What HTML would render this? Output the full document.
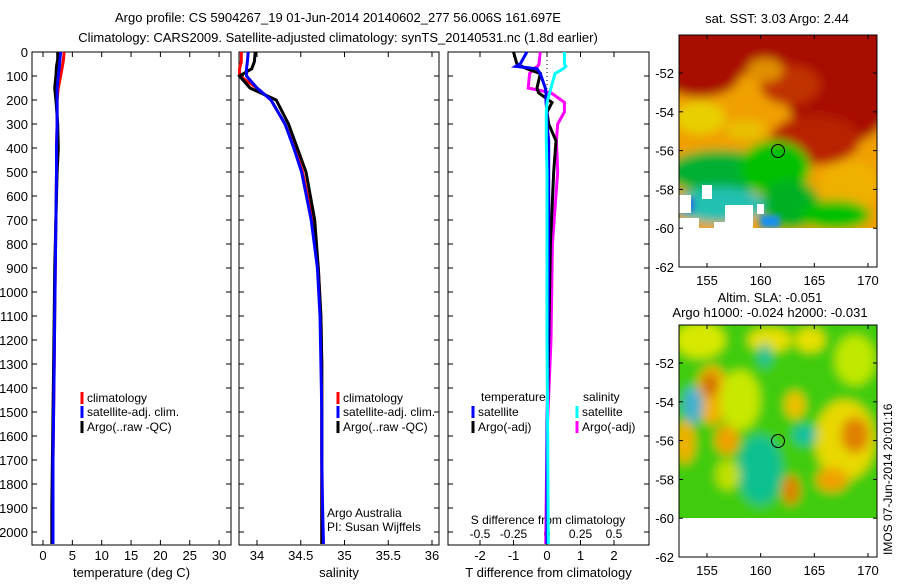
<!DOCTYPE html>
<html><head><meta charset="utf-8"><style>
body{margin:0;background:#fff;width:900px;height:580px;overflow:hidden}
svg{font-family:"Liberation Sans",sans-serif;font-size:13px}
</style></head><body>
<svg id="c" width="900" height="580">
<defs>
<clipPath id="m1"><rect x="679" y="35" width="198" height="193"/></clipPath>
<clipPath id="m2"><rect x="679" y="325" width="198" height="193"/></clipPath>
<filter id="bl" x="-10%" y="-10%" width="120%" height="120%"><feGaussianBlur stdDeviation="5"/></filter>
<filter id="bl2" x="-10%" y="-10%" width="120%" height="120%"><feGaussianBlur stdDeviation="3"/></filter>
</defs>
<text x="338" y="22" text-anchor="middle">Argo profile: CS 5904267_19 01-Jun-2014 20140602_277 56.006S 161.697E</text>
<text x="338" y="42" text-anchor="middle">Climatology: CARS2009. Satellite-adjusted climatology: synTS_20140531.nc (1.8d earlier)</text>

<!-- map 1 SST -->
<g>
<text x="777" y="23" text-anchor="middle">sat. SST: 3.03 Argo: 2.44</text>
<g clip-path="url(#m1)">
<g filter="url(#bl)">
<rect x="660" y="20" width="240" height="220" fill="#f0a000"/>
<rect x="660" y="20" width="240" height="55" fill="#a81000"/>
<ellipse cx="700" cy="75" rx="40" ry="22" fill="#a81000"/>
<ellipse cx="840" cy="90" rx="55" ry="55" fill="#a81000"/>
<ellipse cx="815" cy="140" rx="45" ry="25" fill="#b82000"/>
<ellipse cx="790" cy="85" rx="30" ry="20" fill="#c03000"/>
<ellipse cx="765" cy="70" rx="18" ry="12" fill="#e09000"/>
<ellipse cx="700" cy="118" rx="25" ry="16" fill="#e8d000"/>
<ellipse cx="745" cy="130" rx="20" ry="10" fill="#e8c000"/>
<ellipse cx="850" cy="185" rx="30" ry="25" fill="#f0b000"/>
<ellipse cx="720" cy="172" rx="55" ry="22" fill="#00b030"/>
<ellipse cx="775" cy="168" rx="35" ry="28" fill="#00c000"/>
<ellipse cx="790" cy="205" rx="30" ry="25" fill="#00b020"/>
<ellipse cx="835" cy="215" rx="35" ry="15" fill="#00c000"/>
<ellipse cx="720" cy="205" rx="45" ry="18" fill="#20c0b0"/>
</g>
<g filter="url(#bl2)">
<rect x="680" y="198" width="14" height="14" fill="#2070e0"/>
<rect x="760" y="215" width="20" height="13" fill="#1890f0"/>
</g>
<rect x="679" y="195" width="12" height="18" fill="#fff"/>
<rect x="679" y="218" width="20" height="10" fill="#fff"/>
<rect x="702" y="185" width="10" height="14" fill="#fff"/>
<rect x="725" y="205" width="28" height="23" fill="#fff"/>
<rect x="714" y="222" width="14" height="6" fill="#fff"/>
<rect x="757" y="204" width="7" height="10" fill="#fff"/>
</g>
<rect x="679" y="35" width="198" height="232" fill="none" stroke="#000"/>
<circle cx="778" cy="151" r="6.5" fill="none" stroke="#000"/>
<g id="ax1"></g>
</g>

<!-- map 2 SLA -->
<g>
<text x="770" y="302" text-anchor="middle">Altim. SLA: -0.051</text>
<text x="770" y="317" text-anchor="middle">Argo h1000: -0.024 h2000: -0.031</text>
<g clip-path="url(#m2)">
<g filter="url(#bl)">
<rect x="660" y="310" width="240" height="220" fill="#40cc10"/>
<ellipse cx="700" cy="340" rx="25" ry="18" fill="#d8e800"/>
<ellipse cx="712" cy="395" rx="16" ry="30" fill="#f0b000"/>
<ellipse cx="710" cy="385" rx="8" ry="12" fill="#d07000"/>
<ellipse cx="693" cy="405" rx="10" ry="18" fill="#40b0d0"/>
<ellipse cx="685" cy="442" rx="10" ry="22" fill="#f0b000"/>
<ellipse cx="727" cy="440" rx="12" ry="15" fill="#f0a000"/>
<ellipse cx="740" cy="400" rx="20" ry="30" fill="#c8e800"/>
<ellipse cx="845" cy="440" rx="30" ry="40" fill="#e8d800"/>
<ellipse cx="855" cy="435" rx="14" ry="18" fill="#e08000"/>
<ellipse cx="832" cy="480" rx="16" ry="12" fill="#f0a000"/>
<ellipse cx="791" cy="490" rx="9" ry="15" fill="#e08000"/>
<ellipse cx="795" cy="405" rx="10" ry="14" fill="#f0c000"/>
<ellipse cx="770" cy="340" rx="22" ry="12" fill="#e8e000"/>
<ellipse cx="760" cy="470" rx="22" ry="35" fill="#10c090"/>
<ellipse cx="805" cy="435" rx="12" ry="10" fill="#10c0a0"/>
<ellipse cx="765" cy="355" rx="6" ry="12" fill="#10c0a0"/>
<ellipse cx="810" cy="340" rx="15" ry="12" fill="#e8e000"/>
<ellipse cx="855" cy="360" rx="20" ry="25" fill="#c0e800"/>
<ellipse cx="728" cy="475" rx="12" ry="15" fill="#c0e000"/>
</g>
</g>
<rect x="679" y="325" width="198" height="232" fill="none" stroke="#000"/>
<circle cx="778" cy="441" r="6.5" fill="none" stroke="#000"/>
<g id="ax2"></g>
<text transform="translate(892,555) rotate(-90)" font-size="12">IMOS 07-Jun-2014 20:01:16</text>
</g>
<g id="plots"></g>
</svg>
<script>
// ---- data ----
const depthTicks=[0,100,200,300,400,500,600,700,800,900,1000,1100,1200,1300,1400,1500,1600,1700,1800,1900,2000];
const tTicks=[0,5,10,15,20,25,30];
const sTicks=[34,34.5,35,35.5,36];
const sTickLabels=["34","34.5","35","35.5","36"];
const dTTicks=[-2,-1,0,1,2];
const dSTicks=[-0.5,-0.25,0,0.25,0.5];
const dSTickLabels=["-0.5","-0.25","0","0.25","0.5"];
const depths=[0,30,60,100,150,200,300,400,500,700,900,1100,1300,1500,1700,1900,2050];
const tempClim=[3.6,3.5,3.3,3.0,2.6,2.4,2.4,2.3,2.3,2.2,2.1,2.0,1.9,1.8,1.7,1.6,1.6];
const tempSat=[3.0,2.9,2.8,2.6,2.4,2.4,2.4,2.3,2.3,2.2,2.1,2.0,1.9,1.8,1.7,1.7,1.7];
const tempArgo=[2.5,2.5,2.3,2.2,2.0,2.2,2.5,2.6,2.4,2.2,2.0,1.9,1.8,1.7,1.6,1.5,1.5];
const salDepths=[0,40,70,100,150,200,300,400,500,700,900,1100,1300,1500,1700,1900,2050];
const salClim=[33.82,33.82,33.80,33.80,34.00,34.16,34.32,34.43,34.52,34.63,34.70,34.73,34.74,34.74,34.74,34.74,34.74];
const salSat=[33.90,33.89,33.88,33.88,34.00,34.16,34.32,34.42,34.51,34.62,34.69,34.72,34.73,34.74,34.74,34.75,34.76];
const salArgo=[33.98,33.97,33.94,33.80,33.92,34.22,34.36,34.46,34.56,34.66,34.70,34.73,34.74,34.74,34.74,34.74,34.74];
const diffDepths=[0,50,60,70,90,150,170,210,250,300,370,500,800,1200,1600,2050];
const dTArgo=[-1.0,-0.9,-0.75,-0.6,-0.2,-0.3,-0.25,0.15,0.0,0.05,0.27,0.2,0.1,0.05,0.0,0.0];
const dTSat=[-0.6,-0.8,-0.93,-0.3,-0.2,-0.05,-0.03,-0.03,0.0,0.0,0.05,0.05,0.05,0.03,0.0,0.0];
const dSArgo=[-0.05,-0.06,-0.07,-0.1,-0.13,-0.14,0.03,0.13,0.13,0.08,0.07,0.08,0.04,0.03,0.0,-0.01];
const dSSat=[0.13,0.13,0.14,0.12,0.06,0.03,0.02,0.0,-0.005,-0.005,-0.005,0.0,0.0,0.0,0.005,0.01];
const lonTicks=[155,160,165,170];
const latTicks=[-52,-54,-56,-58,-60,-62];

const NS="http://www.w3.org/2000/svg";
function mk(p,tag,attrs){const e=document.createElementNS(NS,tag);for(const k in attrs)e.setAttribute(k,attrs[k]);p.appendChild(e);return e;}
const plots=document.getElementById('plots');
const top0=52, yScale=0.24;
const yD=d=>top0+d*yScale;

function panel(name,x0,x1,bottom,xs,ticks,labels,xlabel){
  const g=mk(plots,'g',{});
  
  
  const fr=mk(g,'rect',{x:x0,y:top0,width:x1-x0,height:bottom-top0,fill:'none',stroke:'#000'});
  
  
  ticks.forEach((v,i)=>{
    const x=xs(v);
    mk(g,'line',{x1:x,x2:x,y1:bottom,y2:bottom-5,stroke:'#000'});
    mk(g,'line',{x1:x,x2:x,y1:top0,y2:top0+5,stroke:'#000'});
    const t=mk(g,'text',{x:x,y:bottom+15,'text-anchor':'middle'});t.textContent=labels[i];
    
    
  });
  depthTicks.forEach(d=>{const y=yD(d);
    mk(g,'line',{x1:x0,x2:x0+5,y1:y,y2:y,stroke:'#000'});
    mk(g,'line',{x1:x1,x2:x1-5,y1:y,y2:y,stroke:'#000'});});
  if(xlabel){const t=mk(g,'text',{x:(x0+x1)/2,y:bottom+32,'text-anchor':'middle'});t.textContent=xlabel;
    
    }
  return g;
}
function line(g,xs,vals,ds,col,w,name){
  let d='';vals.forEach((v,i)=>{d+=(i?'L':'M')+xs(v).toFixed(1)+','+yD(ds[i]).toFixed(1);});
  const p=mk(g,'path',{d:d,fill:'none',stroke:col,'stroke-width':w});
  
  
}
function legend(g,x,y,col,txt,name){
  mk(g,'line',{x1:x,x2:x,y1:y-10,y2:y+2,stroke:col,'stroke-width':3});
  const t=mk(g,'text',{x:x+5,y:y,'font-size':'12'});t.textContent=txt;
  
  
}
// panel 1 temperature
const xT=v=>43+v*5.87;
const g1=panel('temperature-panel',32,231,545,xT,tTicks,tTicks.map(String),'temperature (deg C)');
depthTicks.forEach(d=>{const t=mk(g1,'text',{x:28,y:yD(d)+5,'text-anchor':'end'});t.textContent=d;
  
  });
line(g1,xT,tempClim,depths,'#f00',3,'temp-climatology-line');
line(g1,xT,tempArgo,depths,'#000',3,'temp-argo-line');
line(g1,xT,tempSat,depths,'#00f',3,'temp-satellite-line');
legend(g1,82,402,'#f00','climatology','legend-climatology');
legend(g1,82,416,'#00f','satellite-adj. clim.','legend-satellite');
legend(g1,82,431,'#000','Argo(..raw -QC)','legend-argo');
// panel 2 salinity
const xS=v=>257+(v-34)*87.5;
const g2=panel('salinity-panel',239,439,545,xS,sTicks,sTickLabels,'salinity');
line(g2,xS,salClim,salDepths,'#f00',3,'sal-climatology-line');
line(g2,xS,salArgo,salDepths,'#000',3,'sal-argo-line');
line(g2,xS,salSat,salDepths,'#00f',3,'sal-satellite-line');
legend(g2,338,402,'#f00','climatology','legend-climatology');
legend(g2,338,416,'#00f','satellite-adj. clim.','legend-satellite');
legend(g2,338,431,'#000','Argo(..raw -QC)','legend-argo');
[['Argo Australia',517],['PI: Susan Wijffels',531]].forEach(a=>{const t=mk(g2,'text',{x:327,y:a[1],'font-size':'12'});t.textContent=a[0];
  
  });
// panel 3 differences
const xdT=v=>547+v*33.5;
const xdS=v=>547+v*134;
const g3=panel('difference-panel',448,649,545,xdT,dTTicks,dTTicks.map(String),'T difference from climatology');
dSTicks.forEach((v,i)=>{const x=xdS(v);
  mk(g3,'line',{x1:x,x2:x,y1:545,y2:540,stroke:'#000'});
  const t=mk(g3,'text',{x:x,y:538,'text-anchor':'middle','font-size':'12'});t.textContent=dSTickLabels[i];
  
  });
const st=mk(g3,'text',{x:548,y:524,'text-anchor':'middle','font-size':'12'});st.textContent='S difference from climatology';


mk(g3,'line',{x1:547,x2:547,y1:top0,y2:545,stroke:'#000','stroke-dasharray':'1,3'});
line(g3,xdS,dSArgo,diffDepths,'#f0f',3,'sal-diff-argo-line');
line(g3,xdT,dTArgo,diffDepths,'#000',3,'temp-diff-argo-line');
line(g3,xdT,dTSat,diffDepths,'#00f',3,'temp-diff-satellite-line');
line(g3,xdS,dSSat,diffDepths,'#0ff',3,'sal-diff-satellite-line');
[['temperature',481],['salinity',583]].forEach(a=>{const t=mk(g3,'text',{x:a[1],y:401,'font-size':'12'});t.textContent=a[0];
  
  });
legend(g3,473,416,'#00f','satellite','legend-temp-satellite');
legend(g3,473,431,'#000','Argo(-adj)','legend-temp-argo');
legend(g3,577,416,'#0ff','satellite','legend-sal-satellite');
legend(g3,577,431,'#f0f','Argo(-adj)','legend-sal-argo');
// map axes
function mapAxes(id,top){
  const g=document.getElementById(id);
  const xL=v=>707+(v-155)*10.73, yL=v=>top+38+(-52-v)*19.4;
  lonTicks.forEach(v=>{const x=xL(v);
    mk(g,'line',{x1:x,x2:x,y1:top+232,y2:top+228,stroke:'#000'});
    mk(g,'line',{x1:x,x2:x,y1:top,y2:top+4,stroke:'#000'});
    const t=mk(g,'text',{x:x,y:top+250,'text-anchor':'middle'});t.textContent=v;
    
    });
  latTicks.forEach(v=>{const y=yL(v);
    mk(g,'line',{x1:679,x2:683,y1:y,y2:y,stroke:'#000'});
    mk(g,'line',{x1:877,x2:873,y1:y,y2:y,stroke:'#000'});
    const t=mk(g,'text',{x:674,y:y+5,'text-anchor':'end'});t.textContent=v;
    
    });
}
mapAxes('ax1',35);
mapAxes('ax2',325);
</script>
</body></html>
